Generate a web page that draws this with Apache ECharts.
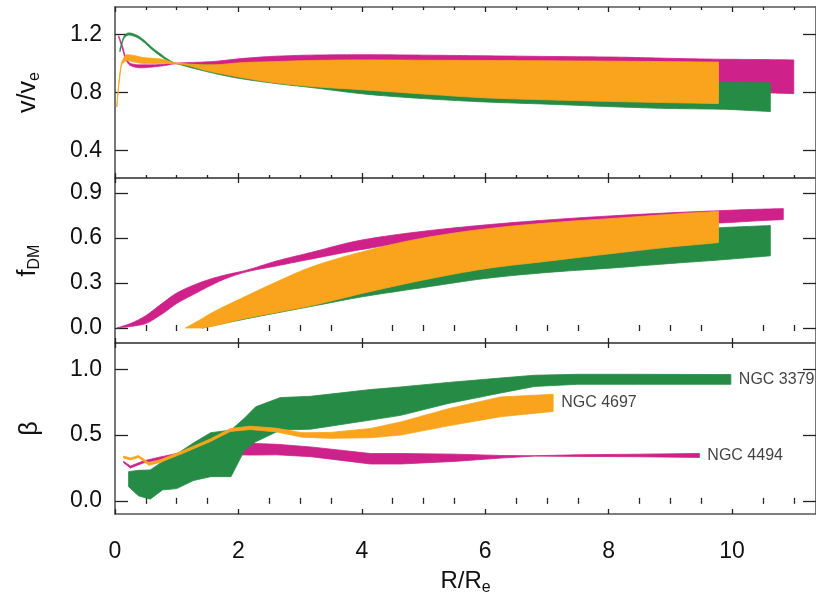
<!DOCTYPE html>
<html><head><meta charset="utf-8">
<script src="https://cdn.jsdelivr.net/npm/echarts@6/dist/echarts.min.js"></script>
<style>html,body{margin:0;padding:0;background:#fff}#c{width:816px;height:598px}</style>
</head><body><div id="c"></div>
<script>
// ---------- tick labels ----------
const xMajorTicks = [0, 2, 4, 6, 8, 10];
const xMinorTicks = [0.5, 1, 1.5, 2.5, 3, 3.5, 4.5, 5, 5.5, 6.5, 7, 7.5, 8.5, 9, 9.5, 10.5, 11];
const yTicksV = [0.4, 0.8, 1.2];
const yTicksF = [0.0, 0.3, 0.6, 0.9];
const yTicksB = [0.0, 0.5, 1.0];

// ---------- panel 1: v/v_e ----------
const vGreenX  = [0.08, 0.15, 0.22, 0.35, 0.47, 0.6, 0.74, 0.87, 1.0, 1.5, 2.0, 2.6, 3.2, 4.1, 5.0, 6.1, 7.0, 8.2, 9.0, 9.8, 10.62];
const vGreenHi = [1.10, 1.19, 1.21, 1.195, 1.16, 1.11, 1.065, 1.025, 1.0, 0.99, 0.98, 0.96, 0.95, 0.94, 0.93, 0.92, 0.91, 0.895, 0.885, 0.87, 0.867];
const vGreenLo = [1.08, 1.175, 1.195, 1.18, 1.145, 1.095, 1.05, 1.015, 0.998, 0.942, 0.898, 0.862, 0.833, 0.787, 0.758, 0.733, 0.72, 0.70, 0.69, 0.685, 0.669];

const vOrangeX  = [0.03, 0.07, 0.11, 0.2, 0.3, 0.47, 0.74, 1.0, 1.55, 2.09, 2.63, 3.17, 4.0, 5.0, 6.08, 7.0, 8.19, 9.0, 9.78];
const vOrangeHi = [0.72, 0.9, 1.01, 1.06, 1.055, 1.04, 1.03, 1.003, 0.99, 1.006, 1.013, 1.02, 1.024, 1.022, 1.02, 1.018, 1.015, 1.012, 1.009];
const vOrangeLo = [0.70, 0.88, 0.99, 1.02, 1.01, 1.0, 1.0, 0.997, 0.944, 0.90, 0.865, 0.842, 0.819, 0.79, 0.762, 0.75, 0.737, 0.73, 0.724];

const vMagX  = [0.06, 0.12, 0.17, 0.25, 0.41, 0.6, 0.8, 1.0, 1.55, 2.09, 2.63, 3.17, 4.0, 5.0, 6.08, 7.0, 8.19, 9.0, 9.78, 10.4, 11.0];
const vMagHi = [1.19, 1.12, 1.05, 1.0, 0.99, 0.99, 0.995, 1.002, 1.012, 1.035, 1.05, 1.057, 1.06, 1.057, 1.052, 1.048, 1.043, 1.035, 1.029, 1.027, 1.024];
const vMagLo = [1.18, 1.10, 1.03, 0.985, 0.97, 0.975, 0.985, 0.998, 0.97, 0.95, 0.93, 0.91, 0.89, 0.87, 0.85, 0.84, 0.83, 0.82, 0.81, 0.80, 0.792];

// ---------- panel 2: f_DM ----------
const fMagX  = [0.03, 0.25, 0.47, 0.75, 1.0, 1.3, 1.55, 1.8, 2.1, 2.63, 3.17, 3.98, 5.0, 6.08, 7.0, 8.19, 9.0, 9.78, 10.3, 10.83];
const fMagHi = [0.0, 0.03, 0.075, 0.16, 0.233, 0.29, 0.327, 0.355, 0.382, 0.448, 0.503, 0.585, 0.645, 0.69, 0.72, 0.751, 0.768, 0.782, 0.79, 0.796];
const fMagLo = [0.0, 0.01, 0.026, 0.09, 0.163, 0.23, 0.283, 0.33, 0.371, 0.415, 0.459, 0.522, 0.585, 0.63, 0.66, 0.685, 0.695, 0.70, 0.712, 0.723];

const fOrangeX  = [1.14, 1.4, 1.55, 2.09, 2.63, 3.17, 3.98, 5.0, 6.08, 7.0, 8.19, 9.0, 9.78];
const fOrangeHi = [0.0, 0.06, 0.097, 0.206, 0.31, 0.405, 0.505, 0.60, 0.664, 0.70, 0.734, 0.758, 0.778];
const fOrangeLo = [0.0, 0.0, 0.01, 0.062, 0.105, 0.148, 0.228, 0.32, 0.40, 0.445, 0.503, 0.54, 0.569];

const fGreenX  = [1.41, 2.09, 2.63, 3.17, 3.98, 5.0, 6.08, 7.0, 8.19, 9.0, 9.78, 10.2, 10.62];
const fGreenHi = [0.0, 0.066, 0.11, 0.155, 0.235, 0.33, 0.41, 0.5, 0.58, 0.63, 0.668, 0.676, 0.683];
const fGreenLo = [0.0, 0.058, 0.101, 0.143, 0.206, 0.27, 0.334, 0.37, 0.404, 0.43, 0.453, 0.467, 0.481];

// ---------- panel 3: beta ----------
const bGreenX  = [0.22, 0.38, 0.57, 0.77, 1.0, 1.27, 1.55, 1.88, 2.1, 2.28, 2.68, 3.17, 4.14, 4.63, 5.4, 6.25, 6.8, 7.5, 8.5, 9.98];
const bGreenHi = [0.222, 0.232, 0.235, 0.298, 0.356, 0.44, 0.518, 0.538, 0.63, 0.715, 0.785, 0.795, 0.846, 0.866, 0.90, 0.934, 0.955, 0.962, 0.962, 0.96];
const bGreenLo = [0.108, 0.038, 0.013, 0.083, 0.093, 0.154, 0.184, 0.184, 0.386, 0.449, 0.538, 0.545, 0.614, 0.65, 0.74, 0.82, 0.87, 0.886, 0.886, 0.886];

const bOrangeX  = [0.14, 0.25, 0.38, 0.55, 0.73, 1.12, 1.55, 1.87, 2.19, 2.62, 3.03, 3.49, 4.14, 4.63, 5.4, 6.25, 7.1];
const bOrangeHi = [0.34, 0.325, 0.345, 0.29, 0.312, 0.385, 0.472, 0.55, 0.568, 0.552, 0.518, 0.52, 0.55, 0.60, 0.70, 0.79, 0.81];
const bOrangeLo = [0.325, 0.31, 0.33, 0.27, 0.292, 0.365, 0.452, 0.528, 0.542, 0.524, 0.484, 0.475, 0.48, 0.50, 0.57, 0.64, 0.68];

const bMagX  = [0.14, 0.25, 0.47, 0.7, 1.0, 1.5, 2.19, 2.62, 3.17, 4.14, 4.63, 5.5, 6.25, 6.8, 7.5, 8.5, 9.47];
const bMagHi = [0.30, 0.265, 0.305, 0.33, 0.36, 0.39, 0.437, 0.43, 0.41, 0.36, 0.36, 0.355, 0.345, 0.343, 0.35, 0.355, 0.36];
const bMagLo = [0.29, 0.25, 0.29, 0.31, 0.33, 0.355, 0.348, 0.35, 0.336, 0.28, 0.28, 0.30, 0.325, 0.340, 0.338, 0.335, 0.33];

// ---------- annotations ----------
const galaxyNames = ['NGC 3379', 'NGC 4697', 'NGC 4494'];
const labelX = [9.98, 7.1, 9.47];
const labelY = [0.923, 0.745, 0.345];

const C_MAG = '#CF218A', C_GRN = '#268C45', C_ORG = '#F9A41C';
const FONT = 'Liberation Sans, Arial, Helvetica, sans-serif';

const chart = echarts.init(document.getElementById('c'), null, {renderer: 'canvas'});

// monotone cubic smoothing of a pixel polyline (x increasing)
function monotone(pts, n) {
  const m = pts.length;
  if (m < 3) return pts.slice();
  const dx = [], s = [];
  for (let i = 0; i < m - 1; i++) {
    dx[i] = pts[i + 1][0] - pts[i][0];
    s[i] = dx[i] === 0 ? 0 : (pts[i + 1][1] - pts[i][1]) / dx[i];
  }
  const t = [];
  t[0] = s[0]; t[m - 1] = s[m - 2];
  for (let i = 1; i < m - 1; i++) {
    if (s[i - 1] * s[i] <= 0) t[i] = 0;
    else {
      const w1 = 2 * dx[i] + dx[i - 1], w2 = dx[i] + 2 * dx[i - 1];
      t[i] = (w1 + w2) / (w1 / s[i - 1] + w2 / s[i]);
    }
  }
  const out = [pts[0]];
  for (let i = 0; i < m - 1; i++) {
    const h = dx[i], y0 = pts[i][1], y1 = pts[i + 1][1];
    for (let k = 1; k <= n; k++) {
      const u = k / n, u2 = u * u, u3 = u2 * u;
      const y = (2 * u3 - 3 * u2 + 1) * y0 + (u3 - 2 * u2 + u) * h * t[i] +
                (-2 * u3 + 3 * u2) * y1 + (u3 - u2) * h * t[i + 1];
      out.push([pts[i][0] + u * h, y]);
    }
  }
  return out;
}

function band(name, g, xs, lo, hi, color, smooth) {
  return {
    type: 'custom', name: name, xAxisIndex: g * 4, yAxisIndex: g * 2, clip: true,
    data: xs.map((x, i) => [x, lo[i], hi[i]]),
    encode: {x: 0, y: [1, 2]},
    silent: true,
    renderItem: function (params, api) {
      if (params.dataIndex !== 0) return null;
      let up = xs.map((x, i) => api.coord([x, hi[i]]));
      let dn = xs.map((x, i) => api.coord([x, lo[i]]));
      if (smooth) { up = monotone(up, 10); dn = monotone(dn, 10); }
      const pts = up.concat(dn.reverse());
      return {type: 'polygon', shape: {points: pts},
        style: {fill: color, stroke: color, lineWidth: 0.8, lineJoin: 'round'}};
    }
  };
}

const grids = [
  {left: 115, width: 701, top: 7, height: 171},
  {left: 115, width: 701, top: 178, height: 165},
  {left: 115, width: 701, top: 343, height: 171}
];
const yRanges = [[0.212, 1.388], [-0.1, 1.0], [-0.1, 1.2]];
const yTickSets = [yTicksV, yTicksF, yTicksB];

const lineStyle = {color: '#555', width: 1.6};
const tickStyle = {color: '#222', width: 1.3};

const xAxes = [], yAxes = [];
grids.forEach((gr, g) => {
  ['bottom', 'top'].forEach(pos => {
    xAxes.push({
      type: 'value', gridIndex: g, min: 0, max: 11.36, position: pos,
      name: (pos === 'bottom' && g === 2) ? '{a|R/R}{b|e}' : '',
      nameLocation: 'middle', nameGap: 52,
      nameTextStyle: {rich: {
        a: {fontSize: 24, fontFamily: FONT, color: '#111'},
        b: {fontSize: 16, fontFamily: FONT, color: '#111', padding: [14, 0, 0, 0]}
      }},
      axisLine: {show: true, onZero: false, lineStyle: lineStyle},
      axisTick: {show: true, inside: true, length: 5, lineStyle: tickStyle, customValues: xMajorTicks},
      axisLabel: {show: pos === 'bottom' && g === 2, customValues: xMajorTicks, margin: 26,
        fontSize: 23, fontFamily: FONT, color: '#111'},
      splitLine: {show: false}
    });
    xAxes.push({
      type: 'value', gridIndex: g, min: 0, max: 11.36, position: pos,
      axisLine: {show: false},
      axisTick: {show: true, inside: true, length: 3, lineStyle: tickStyle, customValues: xMinorTicks},
      axisLabel: {show: false},
      splitLine: {show: false}
    });
  });
  const names = ['{a|v/v}{b|e}', '{a|f}{b|DM}', '{a|β}'];
  ['left', 'right'].forEach(pos => {
    yAxes.push({
      type: 'value', gridIndex: g, min: yRanges[g][0], max: yRanges[g][1], position: pos,
      name: pos === 'left' ? names[g] : '',
      nameLocation: 'middle', nameRotate: 90, nameGap: 72,
      nameTextStyle: {rich: {
        a: {fontSize: 25, fontFamily: FONT, color: '#111'},
        b: {fontSize: 16, fontFamily: FONT, color: '#111', padding: [14, 0, 0, 0]}
      }},
      axisLine: {show: true, onZero: false, lineStyle: lineStyle},
      axisTick: {show: true, inside: true, length: 13, lineStyle: tickStyle, customValues: yTickSets[g]},
      axisLabel: {show: pos === 'left', customValues: yTickSets[g], margin: 13,
        fontSize: 23, fontFamily: FONT, color: '#111', formatter: v => v.toFixed(1)},
      splitLine: {show: false}
    });
  });
});

const series = [
  band('NGC 4494', 0, vMagX, vMagLo, vMagHi, C_MAG, true),
  band('NGC 3379', 0, vGreenX, vGreenLo, vGreenHi, C_GRN, true),
  band('NGC 4697', 0, vOrangeX, vOrangeLo, vOrangeHi, C_ORG, true),
  band('NGC 4494', 1, fMagX, fMagLo, fMagHi, C_MAG, true),
  band('NGC 3379', 1, fGreenX, fGreenLo, fGreenHi, C_GRN, true),
  band('NGC 4697', 1, fOrangeX, fOrangeLo, fOrangeHi, C_ORG, true),
  band('NGC 4494', 2, bMagX, bMagLo, bMagHi, C_MAG, false),
  band('NGC 3379', 2, bGreenX, bGreenLo, bGreenHi, C_GRN, false),
  band('NGC 4697', 2, bOrangeX, bOrangeLo, bOrangeHi, C_ORG, false),
  {
    type: 'scatter', xAxisIndex: 8, yAxisIndex: 4, symbolSize: 0, silent: true,
    data: galaxyNames.map((n, i) => ({name: n, value: [labelX[i], labelY[i]]})),
    label: {show: true, position: 'right', distance: 8, formatter: p => p.name,
      fontSize: 16, fontFamily: FONT, color: '#111'}
  }
];

chart.setOption({
  animation: false,
  backgroundColor: '#fff',
  grid: grids,
  xAxis: xAxes,
  yAxis: yAxes,
  series: series
});
</script></body></html>
